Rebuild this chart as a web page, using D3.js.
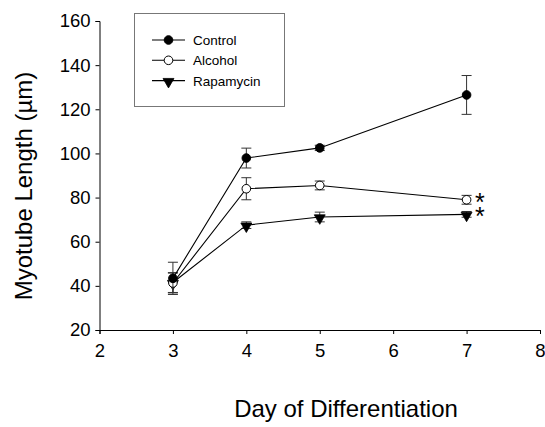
<!DOCTYPE html>
<html><head><meta charset="utf-8">
<script src="https://cdn.jsdelivr.net/npm/d3@7"></script>
<style>body{margin:0;background:#fff}svg{display:block}text{font-family:Arial,"Liberation Sans",sans-serif}</style>
</head><body><svg id="c" width="545" height="427"></svg>
<script>
const days = [3, 4, 5, 7];
const controlMean = [43.4, 97.9, 102.5, 126.5];
const controlErr  = [7.3, 4.5, 1.2, 8.8];
const alcoholMean = [41.3, 84, 85.5, 79];
const alcoholErr  = [4.5, 5, 2, 2];
const rapaMean    = [41.5, 67.5, 71.2, 72.4];
const rapaErr     = [4.5, 1.5, 2.2, 1.3];
const xTicks = [2, 3, 4, 5, 6, 7, 8];
const yTicks = [20, 40, 60, 80, 100, 120, 140, 160];
const seriesNames = ["Control", "Alcohol", "Rapamycin"];
const sigStars = [{series: "Alcohol", day: 7}, {series: "Rapamycin", day: 7}];

const series = [
  {name: "Control", mean: controlMean, err: controlErr, marker: "circle", fill: "#000"},
  {name: "Alcohol", mean: alcoholMean, err: alcoholErr, marker: "circle", fill: "#fff"},
  {name: "Rapamycin", mean: rapaMean, err: rapaErr, marker: "triangle", fill: "#000"}
];

const svg = d3.select("#c");
const x = d3.scaleLinear().domain([2, 8]).range([99.5, 540]);
const y = d3.scaleLinear().domain([20, 160]).range([330, 21]);

const xAxis = svg.append("g").attr("transform", "translate(0,330)")
  .call(d3.axisBottom(x).tickValues(xTicks).tickSize(4).tickPadding(6).tickFormat(d3.format("d")));
const yAxis = svg.append("g").attr("transform", "translate(99.5,0)")
  .call(d3.axisLeft(y).tickValues(yTicks).tickSize(4).tickPadding(5).tickFormat(d3.format("d")));
[xAxis, yAxis].forEach(a => {
  a.select(".domain").attr("stroke", "#000").attr("stroke-width", 1);
  a.selectAll(".tick line").attr("stroke", "#000");
  a.selectAll("text").attr("font-size", 18.5).attr("fill", "#000").style("font-family", "Arial, 'Liberation Sans', sans-serif");
});
xAxis.selectAll("text").attr("dy", "0.9em");

svg.append("text").attr("x", 346).attr("y", 417).attr("text-anchor", "middle")
  .attr("font-size", 24).text("Day of Differentiation");
svg.append("text").attr("transform", "translate(32,186) rotate(-90)").attr("text-anchor", "middle")
  .attr("font-size", 24).text("Myotube Length (µm)");

const line = d3.line().x(d => x(d[0])).y(d => y(d[1]));
const tri = d3.symbol().type(d3.symbolTriangle).size(52);

function drawMarker(g, s, cx, cy) {
  if (s.marker === "circle") {
    g.append("circle").attr("cx", cx).attr("cy", cy).attr("r", 4.3)
      .attr("fill", s.fill).attr("stroke", "#000").attr("stroke-width", 1);
  } else {
    g.append("path").attr("d", tri).attr("transform", `translate(${cx},${cy + 1}) rotate(180)`)
      .attr("fill", s.fill).attr("stroke", "#000").attr("stroke-width", 0.8);
  }
}

[...series].reverse().forEach(s => {
  const g = svg.append("g");
  const pts = days.map((d, i) => [d, s.mean[i]]);
  days.forEach((d, i) => {
    const cx = x(d), hi = y(s.mean[i] + s.err[i]), lo = y(s.mean[i] - s.err[i]);
    g.append("line").attr("x1", cx).attr("x2", cx).attr("y1", hi).attr("y2", lo).attr("stroke", "#333").attr("stroke-width", 1);
    [hi, lo].forEach(yy => g.append("line").attr("x1", cx - 5).attr("x2", cx + 5).attr("y1", yy).attr("y2", yy).attr("stroke", "#333").attr("stroke-width", 1));
  });
  g.append("path").attr("d", line(pts)).attr("fill", "none").attr("stroke", "#000").attr("stroke-width", 1.1);
  days.forEach((d, i) => drawMarker(g, s, x(d), y(s.mean[i])));
});

const starText = svg.append("text").attr("font-size", 25);
sigStars.forEach(st => {
  const s = series.find(v => v.name === st.series);
  const i = days.indexOf(st.day);
  starText.append("tspan").attr("x", x(st.day) + 8.5).attr("y", y(s.mean[i]) + 11).text("*");
});

const lg = svg.append("g");
lg.append("rect").attr("x", 134.5).attr("y", 13.5).attr("width", 150).attr("height", 93)
  .attr("fill", "#fff").attr("stroke", "#777").attr("stroke-width", 1);
series.forEach((s, i) => {
  const ly = 40 + i * 20.3;
  lg.append("line").attr("x1", 152).attr("x2", 185).attr("y1", ly).attr("y2", ly).attr("stroke", "#000").attr("stroke-width", 1.1);
  drawMarker(lg, s, 168.5, ly);
  lg.append("text").attr("x", 193).attr("y", ly + 5).attr("font-size", 13.5).text(seriesNames[i]);
});
</script></body></html>
